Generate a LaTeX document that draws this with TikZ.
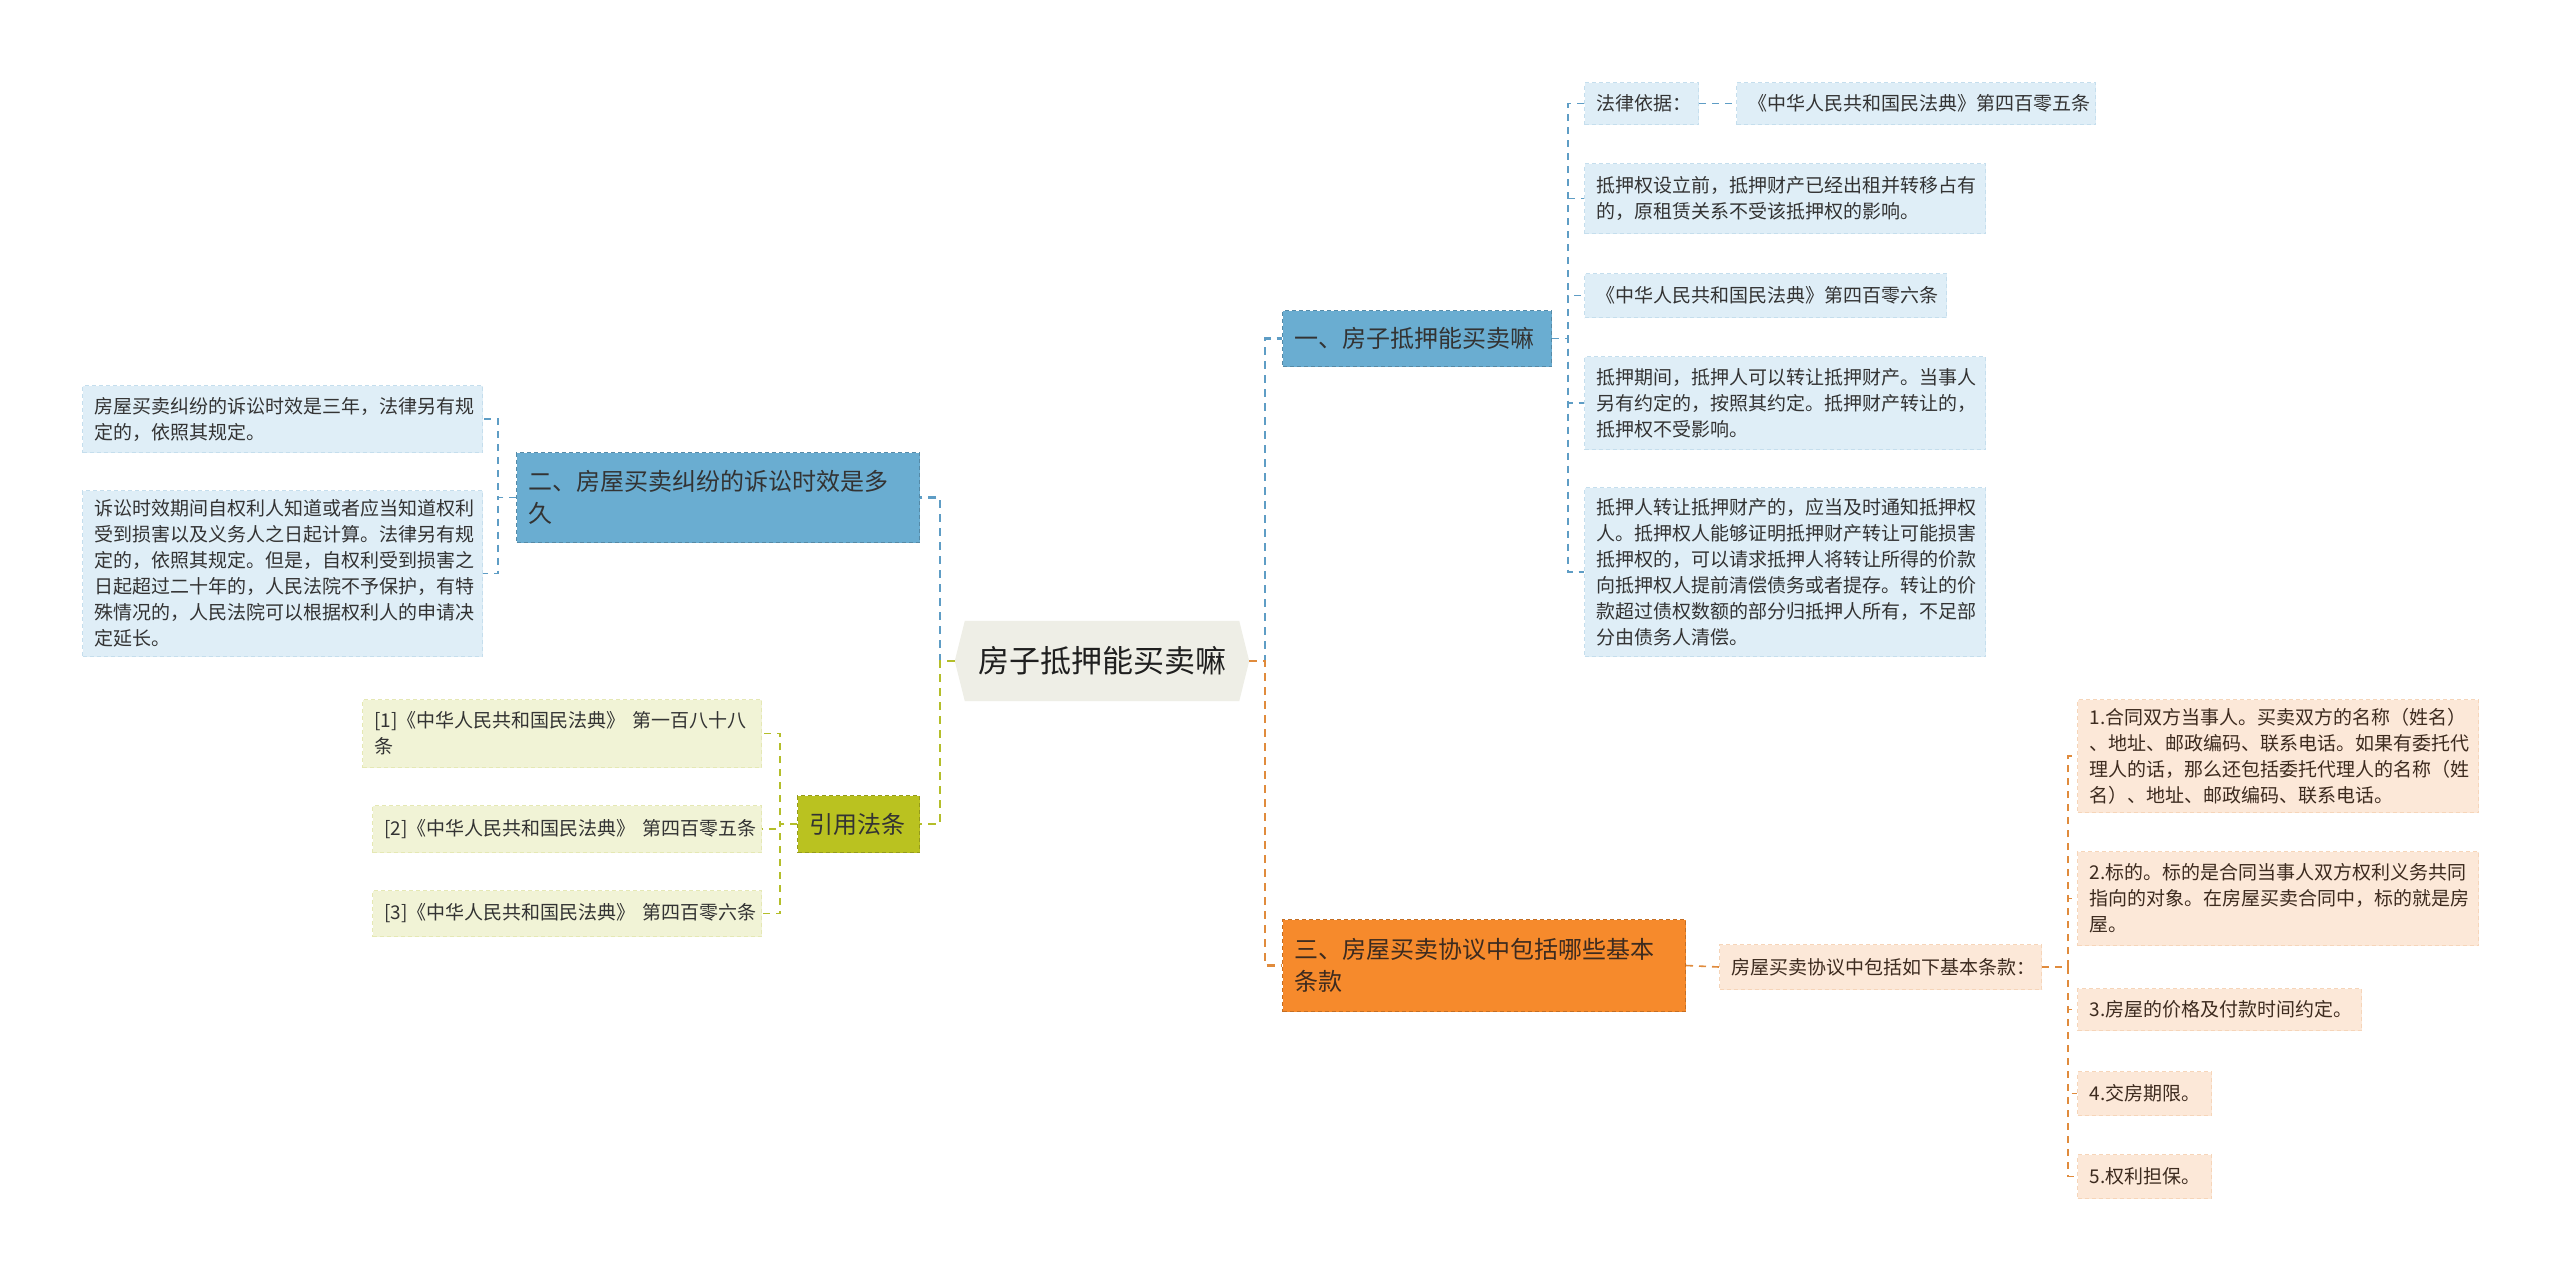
\documentclass[tikz,border=0pt]{standalone}
\usepackage{fontspec}
\setmainfont{Noto Sans CJK SC}
\usetikzlibrary{calc,backgrounds}
\definecolor{bmain}{HTML}{6AADD1}
\definecolor{bleaf}{HTML}{DFEEF7}
\definecolor{bline}{HTML}{5E9DC5}
\definecolor{gmain}{HTML}{BAC220}
\definecolor{gleaf}{HTML}{F1F3D6}
\definecolor{gline}{HTML}{B4BE2A}
\definecolor{omain}{HTML}{F68A2C}
\definecolor{oleaf}{HTML}{FCE8D8}
\definecolor{oline}{HTML}{E08B3C}
\definecolor{cfill}{HTML}{EEEEE6}
\definecolor{tdark}{HTML}{333333}
\definecolor{tbrown}{HTML}{3D2B1F}
\tikzset{
  box/.style={rectangle, anchor=north west, inner xsep=12pt, inner ysep=0pt, align=left, dash pattern=on 4pt off 3pt, line width=1pt},
  leafbox/.style={box, font=\fontsize{19}{26}\selectfont},
  mainbox/.style={box, font=\fontsize{24}{32}\selectfont},
  lb/.style={leafbox, fill=bleaf, draw=bleaf!80!bline, text=tdark},
  lg/.style={leafbox, fill=gleaf, draw=gleaf!80!gline, text=tdark},
  lo/.style={leafbox, fill=oleaf, draw=oleaf!80!oline, text=tbrown},
  mb/.style={mainbox, fill=bmain, draw=bmain!80!black, text=tdark},
  mg/.style={mainbox, fill=gmain, draw=gmain!80!black, text=tdark},
  mo/.style={mainbox, fill=omain, draw=omain!80!black, text=tbrown},
  cb/.style={draw=bline, line width=2.5pt, dash pattern=on 8pt off 6pt},
  cg/.style={draw=gline, line width=2.5pt, dash pattern=on 8pt off 6pt},
  co/.style={draw=oline, line width=2.5pt, dash pattern=on 8pt off 6pt},
  kb/.style={draw=bline, line width=1.6pt, dash pattern=on 7pt off 6pt},
  kg/.style={draw=gline, line width=1.6pt, dash pattern=on 7pt off 6pt},
  ko/.style={draw=oline, line width=1.6pt, dash pattern=on 7pt off 6pt},
}
\begin{document}
\begin{tikzpicture}[x=1pt,y=-1pt]
\useasboundingbox (0,0) rectangle (2560,1280);

% center
\node[font=\fontsize{31}{36}\selectfont, text=black!88, minimum width=294pt, minimum height=80pt, inner sep=0pt] (c) at (1102,661) {房子抵押能买卖嘛};
\begin{scope}[on background layer]
\fill[white] (0,0) rectangle (2560,1280);
\fill[cfill] (c.west) -- ($(c.north west)+(10,0)$) -- ($(c.north east)+(-10,0)$) -- (c.east) -- ($(c.south east)+(-10,0)$) -- ($(c.south west)+(10,0)$) -- cycle;
\end{scope}
\coordinate (jr) at (1265,661);
\coordinate (jl) at (940,661);

% main branches
\node[mb, text width=245pt, minimum height=56pt] (b1) at (1282,310) {一、房子抵押能买卖嘛};
\node[mb, text width=379pt, minimum height=90pt] (b2) at (516,452) {二、房屋买卖纠纷的诉讼时效是多\\久};
\node[mg, text width=98pt, minimum height=57pt] (b3) at (797,795) {引用法条};
\node[mo, text width=379pt, minimum height=92pt] (b4) at (1282,919) {三、房屋买卖协议中包括哪些基本\\条款};

% branch 1 leaves
\node[lb, text width=90pt, minimum height=42pt] (l11) at (1584,82) {法律依据：};
\node[lb, text width=335pt, minimum height=42pt] (l12) at (1736,82) {《中华人民共和国民法典》第四百零五条};
\node[lb, text width=377pt, minimum height=70pt] (l13) at (1584,163) {抵押权设立前，抵押财产已经出租并转移占有\\的，原租赁关系不受该抵押权的影响。};
\node[lb, text width=338pt, minimum height=44pt] (l14) at (1584,273) {《中华人民共和国民法典》第四百零六条};
\node[lb, text width=377pt, minimum height=93pt] (l15) at (1584,356) {抵押期间，抵押人可以转让抵押财产。当事人\\另有约定的，按照其约定。抵押财产转让的，\\抵押权不受影响。};
\node[lb, text width=377pt, minimum height=169pt] (l16) at (1584,487) {抵押人转让抵押财产的，应当及时通知抵押权\\人。抵押权人能够证明抵押财产转让可能损害\\抵押权的，可以请求抵押人将转让所得的价款\\向抵押权人提前清偿债务或者提存。转让的价\\款超过债权数额的部分归抵押人所有，不足部\\分由债务人清偿。};

% branch 2 leaves
\node[lb, text width=376pt, minimum height=67pt] (l21) at (82,385) {房屋买卖纠纷的诉讼时效是三年，法律另有规\\定的，依照其规定。};
\node[lb, text width=376pt, minimum height=166pt] (l22) at (82,490) {诉讼时效期间自权利人知道或者应当知道权利\\受到损害以及义务人之日起计算。法律另有规\\定的，依照其规定。但是，自权利受到损害之\\日起超过二十年的，人民法院不予保护，有特\\殊情况的，人民法院可以根据权利人的申请决\\定延长。};

% branch 3 leaves
\node[lg, text width=375pt, minimum height=68pt] (l31) at (362,699) {[1]《中华人民共和国民法典》~第一百八十八\\条};
\node[lg, text width=365pt, minimum height=47pt] (l32) at (372,805) {[2]《中华人民共和国民法典》~第四百零五条};
\node[lg, text width=365pt, minimum height=46pt] (l33) at (372,890) {[3]《中华人民共和国民法典》~第四百零六条};

% branch 4 leaves
\node[lo, text width=298pt, minimum height=45pt] (l40) at (1719,944) {房屋买卖协议中包括如下基本条款：};
\node[lo, text width=377pt, minimum height=113pt] (l41) at (2077,699) {1.合同双方当事人。买卖双方的名称（姓名）\\、地址、邮政编码、联系电话。如果有委托代\\理人的话，那么还包括委托代理人的名称（姓\\名）、地址、邮政编码、联系电话。};
\node[lo, text width=377pt, minimum height=94pt] (l42) at (2077,851) {2.标的。标的是合同当事人双方权利义务共同\\指向的对象。在房屋买卖合同中，标的就是房\\屋。};
\node[lo, text width=260pt, minimum height=42pt] (l43) at (2077,988) {3.房屋的价格及付款时间约定。};
\node[lo, text width=110pt, minimum height=44pt] (l44) at (2077,1071) {4.交房期限。};
\node[lo, text width=110pt, minimum height=44pt] (l45) at (2077,1154) {5.权利担保。};

% main connectors
\draw[cb] (c.east) -- (jr) |- (b1.west);
\draw[co] (c.east) -- (jr) |- (b4.west);
\draw[cb] (c.west) -- (jl) |- (b2.east);
\draw[cg] (c.west) -- (jl) |- (b3.east);

% branch 1 connectors
\foreach \n in {l11,l13,l14,l15,l16}{
  \draw[kb] (b1.east) -- ++(16,0) |- (\n.west);
}
\draw[kb] (l11.east) -- (l12.west);

% branch 2 connectors
\foreach \n in {l21,l22}{
  \draw[kb] (b2.west) -- ++(-18,0) |- (\n.east);
}

% branch 3 connectors
\foreach \n in {l31,l32,l33}{
  \draw[kg] (b3.west) -- ++(-17,0) |- (\n.east);
}

% branch 4 connectors
\draw[ko] (b4.east) -- (l40.west);
\foreach \n in {l41,l42,l43,l44,l45}{
  \draw[ko] (l40.east) -- ++(26,0) |- (\n.west);
}
\end{tikzpicture}
\end{document}
